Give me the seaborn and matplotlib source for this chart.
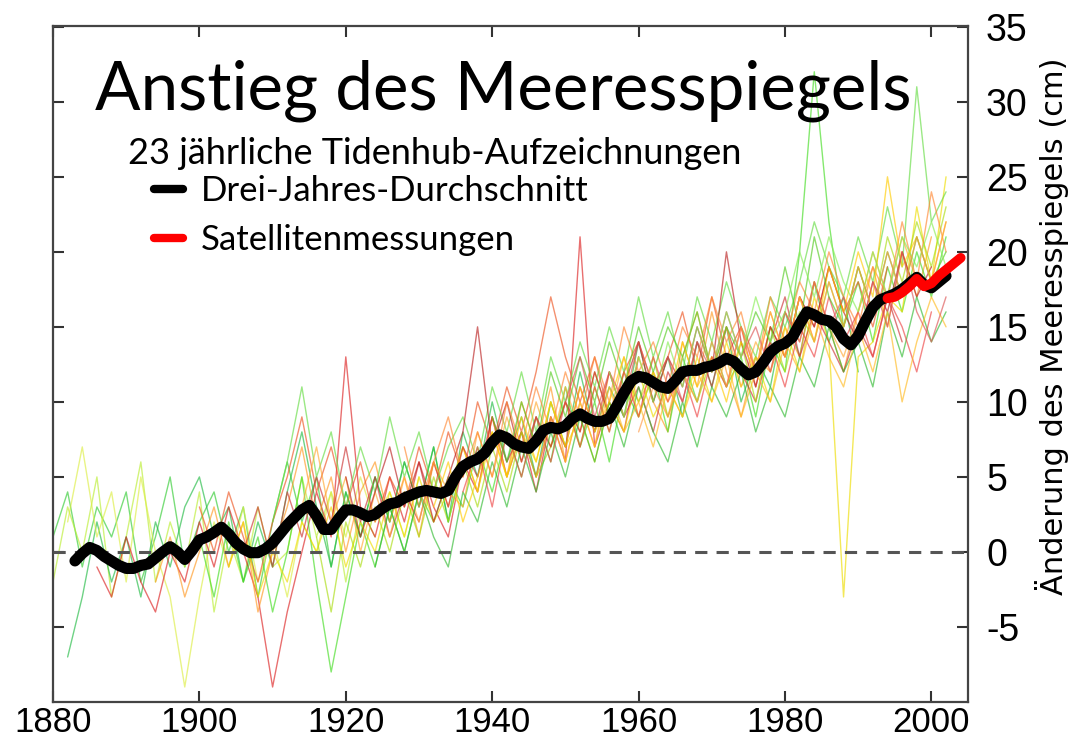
import numpy as np
import pandas as pd
import matplotlib
matplotlib.use("Agg")
import matplotlib.pyplot as plt
import seaborn as sns

# three-year running mean of the tide gauges (cm), one value per year
avg_years = list(range(1883, 2003))
avg_level = [
    -0.6, -0.1, 0.3, 0.1, -0.3, -0.6, -0.9, -1.1, -1.1, -0.9,
    -0.8, -0.4, 0.0, 0.35, 0.0, -0.5, 0.1, 0.8, 1.0, 1.3,
    1.65, 1.2, 0.6, 0.2, -0.05, -0.05, 0.2, 0.6, 1.2, 1.8,
    2.3, 2.8, 3.1, 2.4, 1.5, 1.5, 2.2, 2.8, 2.8, 2.6,
    2.35, 2.5, 2.9, 3.2, 3.3, 3.6, 3.8, 4.0, 4.1, 4.0,
    3.9, 4.1, 5.0, 5.7, 6.0, 6.2, 6.6, 7.3, 7.8, 7.6,
    7.2, 7.0, 6.9, 7.4, 8.1, 8.3, 8.2, 8.4, 8.9, 9.2,
    8.9, 8.7, 8.7, 8.9, 9.7, 10.6, 11.4, 11.7, 11.6, 11.3,
    11.0, 10.9, 11.4, 12.0, 12.1, 12.1, 12.3, 12.4, 12.6, 12.9,
    12.7, 12.2, 11.8, 12.0, 12.6, 13.3, 13.7, 13.9, 14.3, 15.2,
    16.0, 15.8, 15.5, 15.4, 15.0, 14.2, 13.8, 14.4, 15.4, 16.3,
    16.8, 17.0, 17.2, 17.5, 17.9, 18.3, 17.8, 17.6, 18.0, 18.4,
]

# satellite altimetry (cm)
sat_years = [1994, 1995, 1996, 1997, 1998, 1999, 2000, 2001, 2002, 2003, 2004]
sat_level = [16.9, 17.0, 17.3, 17.7, 18.2, 17.7, 17.9, 18.4, 18.8, 19.2, 19.6]

# 23 individual tide gauge records, sampled every two years from their first year
gauge_first_year = [1880, 1880, 1882, 1882, 1886, 1894, 1900, 1900, 1904, 1906, 1910, 1914,
                    1916, 1920, 1924, 1928, 1932, 1936, 1940, 1946, 1950, 1956, 1960]
gauge_01 = [1, 4, -1, 3, 1, 4, -2, 1, 5, -1, 2, 4, 0, 3, -3, 2, 6, 2, 5, -1, 4, 1, 5, 2, 6, 3, 7, 2, 6]
gauge_02 = [-2, 3, 0, 5, -3, 1, 6, -2, 2, -1, 4, -4, 1, -2, 3, -1, 0, 5, 1, 4, -2, 3, 1]
gauge_03 = [-7, -3, 2, -2, 1, -3, 2, -1, 3, 5, 1, 3, -2, 2, -1, 4, 8, 3, -1, 4, 1, 5, 2, 6, 3, 7, 2, 8,
            5, 10, 6, 9, 5, 10, 7, 12, 8, 11, 9, 14, 10, 13, 9, 14, 11, 15, 10, 13, 11, 16, 13, 18, 14, 17, 12]
gauge_04 = [2, 7, 1, 4, -2, 5, 0, -3, -9, -3, 2, -1, 3, -2, 1, -3, 2, 0, 4, 1, 5, 2, 4, 1, 5]
gauge_05 = [-1, -3, 1, -2, -4, 0, -2, 2, -1, 3, 0, -3, -9, -4, 0, 4, 1, 13, 3, 1, 5, 2, 6, 3, 1, 6, 4, 9,
            5, 8, 4, 9, 6, 21, 7, 10, 8, 13]
gauge_06 = [-2, 1, -3, 0, 3, -1, 2, -4, 0, 3, 7, 2, 5, 0, 4, 6, 2, 5, 1, 6, 3, 7, 4, 9, 5, 10, 7, 11,
            6, 10, 7, 12, 9, 13, 10, 8, 14, 11, 16, 12, 9, 13, 12, 15, 13, 18, 15, 12, 16, 19, 15, 20, 17, 21]
gauge_07 = [1, -3, 2, -2, 1, -4, 0, 5, -2, -8, -3, 2, -1, 3, 0, 4, 2, 5, 3, 7, 4, 8, 5, 9, 6, 11, 7, 10,
            6, 11, 9, 12, 8, 13, 10, 14, 11, 13, 9, 14, 12, 20, 32, 22, 15, 18, 14, 19, 16, 20, 17, 21]
gauge_08 = [3, 0, 4, 1, -2, 2, 5, 9, 4, 7, 3, 6, 2, 5, 3, 7, 4, 8, 5, 10, 7, 11, 8, 12, 17, 13, 10, 13,
            9, 12, 14, 11, 13, 16, 12, 17, 13, 15, 11, 15, 13, 17, 15, 19, 16, 18, 15, 19]
gauge_09 = [-1, 2, -3, 0, -2, 2, 0, 3, -1, 2, 0, 4, 1, 5, 2, 4, 7, 4, 8, 5, 8, 6, 10, 7, 9, 6, 10, 8,
            12, 9, 11, 9, 13, 10, 14, 11, 13, 10, 15, 12, 17, 14, -3, 13, 14, 17, 16, 23, 18, 25]
gauge_10 = [0, 3, -1, 4, 1, 5, 2, 7, 2, 5, 1, 4, 2, 6, 3, 7, 5, 9, 6, 8, 5, 9, 7, 11, 8, 12, 9, 11,
            8, 12, 10, 14, 11, 15, 12, 10, 14, 17, 13, 16, 14, 12, 15, 13, 17, 14]
gauge_11 = [2, 6, 11, 5, 8, 3, 7, 4, 9, 5, 8, 4, 7, 9, 6, 11, 8, 12, 8, 13, 10, 14, 11, 15, 12, 17, 13, 16,
            12, 17, 14, 18, 15, 13, 17, 15, 18, 22, 19, 17, 21, 18, 23, 19, 31, 22, 24]
gauge_12 = [3, 7, 2, 5, 0, 4, 1, 5, 2, 6, 4, 3, 8, 5, 9, 6, 10, 7, 11, 8, 12, 9, 13, 10, 12, 9, 13, 16,
            12, 15, 11, 14, 12, 16, 14, 18, 15, 13, 16, 20, 17, 21, 18]
gauge_13 = [1, -4, 2, -1, 3, 0, 4, 1, 5, 2, 6, 3, 7, 4, 8, 5, 7, 10, 7, 11, 8, 12, 10, 13, 9, 12, 10, 13,
            11, 14, 10, 15, 12, 16, 14, 18, 15, 19, 16, 21, 18, 22, 19, 23]
gauge_14 = [5, 1, 4, 7, 3, 6, 2, 5, 8, 15, 7, 10, 6, 9, 7, 10, 8, 12, 9, 11, 14, 10, 13, 11, 15, 12, 20, 14,
            11, 15, 13, 17, 15, 19, 16, 14, 18, 16, 20, 17, 19]
gauge_15 = [-1, 3, 0, 4, 1, -1, 4, 2, 6, 3, 7, 4, 8, 5, 9, 6, 10, 7, 11, 8, 6, 10, 7, 11, 9, 12, 8, 11,
            9, 13, 11, 15, 12, 14, 11, 16, 13, 17, 14, 16]
gauge_16 = [7, 3, 6, 9, 5, 8, 5, 10, 7, 11, 8, 12, 9, 13, 10, 15, 12, 14, 11, 15, 13, 17, 14, 16, 12, 17, 14, 18,
            16, 20, 17, 15, 19, 17, 22, 18, 24, 20]
gauge_17 = [3, 6, 2, 5, 8, 5, 9, 6, 10, 7, 11, 8, 10, 13, 9, 12, 10, 14, 11, 13, 10, 14, 12, 16, 13, 17, 14, 19,
            16, 20, 17, 25, 19, 21, 18, 22]
gauge_18 = [4, 7, 3, 8, 5, 9, 6, 10, 7, 11, 8, 12, 9, 13, 10, 12, 9, 13, 11, 15, 12, 14, 11, 15, 13, 17, 14, 16,
            13, 17, 15, 12, 16]
gauge_19 = [9, 6, 10, 7, 12, 9, 13, 10, 14, 11, 15, 12, 15, 13, 16, 12, 15, 13, 16, 14, 19, 15, 21, 17, 15, 19, 16, 20,
            17, 21, 18, 20]
gauge_20 = [5, 9, 6, 10, 7, 11, 8, 10, 7, 11, 9, 12, 10, 13, 9, 12, 10, 14, 12, 16, 13, 11, 15, 12, 16, 10, 14, 17, 15]
gauge_21 = [10, 13, 9, 12, 10, 14, 11, 13, 10, 14, 12, 16, 13, 15, 12, 16, 14, 18, 15, 17, 14, 18, 15, 20, 16, 14, 17]
gauge_22 = [12, 9, 13, 10, 14, 11, 15, 12, 16, 13, 17, 14, 16, 20, 17, 21, 18, 16, 20, 17, 21, 19, 22, 19]
gauge_23 = [8, 11, 9, 12, 10, 14, 11, 15, 12, 16, 13, 17, 14, 18, 15, 19, 16, 20, 17, 21, 18, 22]

gauges = [gauge_01, gauge_02, gauge_03, gauge_04, gauge_05, gauge_06, gauge_07, gauge_08,
          gauge_09, gauge_10, gauge_11, gauge_12, gauge_13, gauge_14, gauge_15, gauge_16,
          gauge_17, gauge_18, gauge_19, gauge_20, gauge_21, gauge_22, gauge_23]

gauge_colors = ["#33cc33", "#bbee33", "#22bb44", "#ddee44", "#dd2222", "#ff9922", "#44dd22",
                "#ee5522", "#eedd00", "#cc3333", "#66dd44", "#ffaa33", "#aadd11", "#bb2222",
                "#33bb33", "#ff8833", "#ffcc00", "#ee4444", "#55cc22", "#ffbb22", "#dd5555",
                "#88ee55", "#ff9944"]

x_ticks = [1880, 1900, 1920, 1940, 1960, 1980, 2000]
y_ticks = [-5, 0, 5, 10, 15, 20, 25, 30, 35]

# long table for the thin gauge lines
rows = []
for i, (start, vals) in enumerate(zip(gauge_first_year, gauges)):
    yrs = np.arange(start, start + 2 * len(vals), 2)
    for yr, v in zip(yrs, vals):
        rows.append({"gauge": f"g{i + 1:02d}", "year": yr, "level": v})
gauge_df = pd.DataFrame(rows)

sns.set_theme(style="white")
plt.rcParams["font.family"] = ["Lato", "DejaVu Sans"]
plt.rcParams["axes.unicode_minus"] = False
plt.rcParams["text.color"] = "black"

fig = plt.figure(figsize=(10.7, 7.46), dpi=100)
ax = fig.add_axes([53 / 1070, 44 / 746, 915 / 1070, 676 / 746])

sns.lineplot(data=gauge_df, x="year", y="level", hue="gauge",
             palette=gauge_colors, linewidth=1.0, alpha=0.65, legend=False, ax=ax)
ax.axhline(0, color="#555555", linestyle=(0, (4, 3)), linewidth=2.2, zorder=3)
sns.lineplot(x=avg_years, y=avg_level, color="black", linewidth=8,
             label="Drei-Jahres-Durchschnitt", ax=ax, zorder=4)
sns.lineplot(x=sat_years, y=sat_level, color="#ff0000", linewidth=7,
             label="Satellitenmessungen", ax=ax, zorder=5)

ax.set_xlim(1880, 2005)
ax.set_ylim(-10, 35.05)
ax.set_xticks(x_ticks)
ax.set_yticks(y_ticks)
ax.set_xlabel("")
ax.set_ylabel("")
ax.tick_params(direction="in", length=8, width=1.5, top=True, right=True, left=True,
               bottom=True, labelleft=False, labelright=True, colors="#333333",
               labelcolor="black")
ax.tick_params(axis="y", pad=13)
ax.tick_params(axis="x", pad=3)
for lab in ax.get_xticklabels():
    lab.set_fontfamily("Liberation Sans")
    lab.set_fontsize(25)
for lab in ax.get_yticklabels():
    lab.set_fontfamily("Liberation Sans")
    lab.set_fontsize(27)
for sp in ax.spines.values():
    sp.set_color("#444444")
    sp.set_linewidth(1.6)

ax.text(0.046, 0.876, "Anstieg des Meeresspiegels", transform=ax.transAxes,
        fontsize=48.5, va="baseline", ha="left", color="black")
ax.text(0.082, 0.796, "23 jährliche Tidenhub-Aufzeichnungen", transform=ax.transAxes,
        fontsize=26, va="baseline", ha="left", color="black")
leg = ax.legend(loc="upper left", bbox_to_anchor=(0.11, 0.78), frameon=False,
                fontsize=25, handlelength=0.85, handletextpad=0.5, labelspacing=0.5,
                borderpad=0, borderaxespad=0)
for line in leg.get_lines():
    line.set_linewidth(6)
for t in leg.get_texts():
    t.set_color("black")

fig.text(1052 / 1070, 1 - 326 / 746, "Änderung des Meeresspiegels (cm)", rotation=90,
         ha="center", va="center", fontsize=22, color="black", family="DejaVu Sans")

fig.savefig("out.png", dpi=100)
